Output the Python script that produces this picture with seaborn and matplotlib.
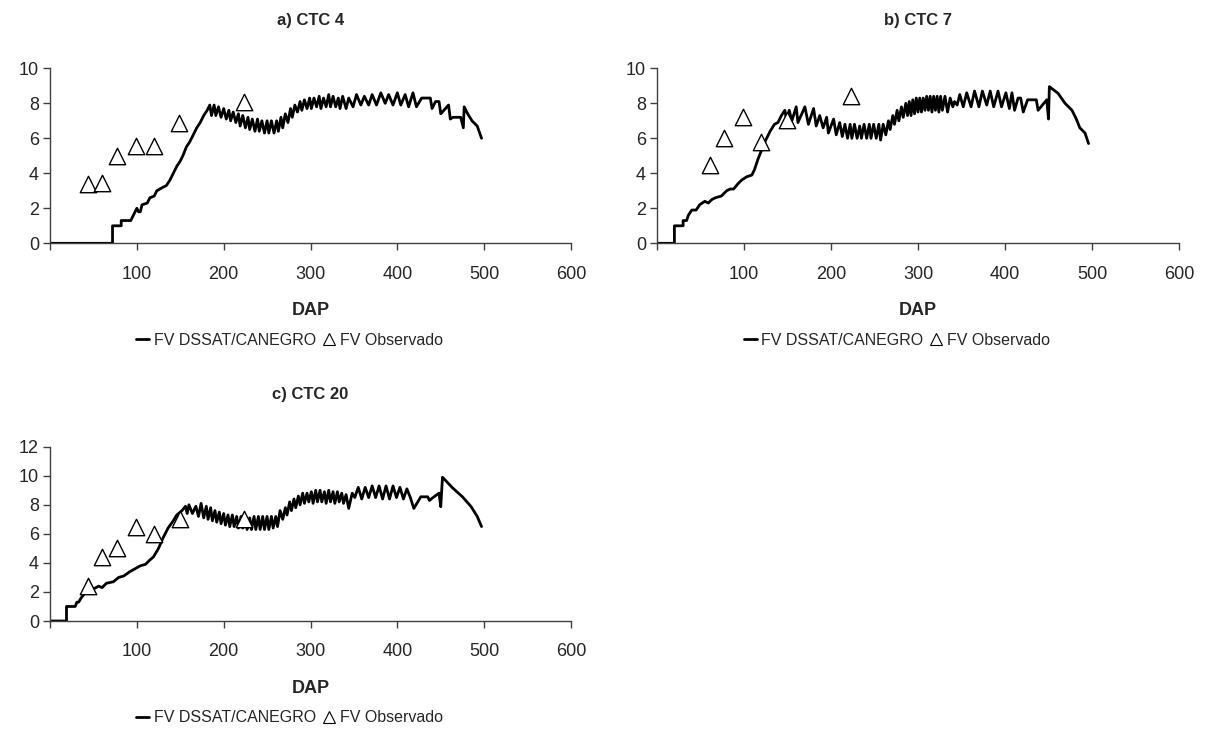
import numpy as np
import pandas as pd
import matplotlib
matplotlib.use("Agg")
import matplotlib.pyplot as plt
from matplotlib.lines import Line2D
import seaborn as sns

# -----------------------------
# Data (DAP = days after planting, FV = green leaves)
# -----------------------------

# a) CTC 4 - simulated
dap_a = [0, 72, 72, 82, 82, 93, 97, 100, 102, 104, 106, 112, 115, 120, 123, 130, 134, 138, 142, 146,
         150, 153, 157, 161, 165, 169, 173, 177, 181, 184,
         186, 189, 191, 194, 197, 200, 203, 206, 208, 211, 214, 217, 219, 222, 225, 228, 230, 233, 236, 239,
         241, 244, 247, 250, 252, 255, 258, 261, 263, 266, 268, 271, 274, 277, 279, 282, 285, 288, 290, 293,
         296, 299, 301, 304, 307, 310, 312, 315, 318, 321, 323, 326, 329, 332, 334, 337, 341, 344, 349, 353,
         358, 362, 367, 371, 376, 381, 386, 390, 395, 400, 404, 409, 413, 418, 422, 428, 438, 440, 444, 448,
         450, 459, 461, 464, 473, 476, 477, 481, 486, 492, 497]
fv_a = [0, 0, 1.0, 1.0, 1.3, 1.3, 1.7, 2.0, 1.8, 1.8, 2.2, 2.3, 2.6, 2.7, 3.0, 3.2, 3.3, 3.6, 4.0, 4.4,
        4.7, 5.0, 5.5, 5.8, 6.2, 6.6, 6.9, 7.3, 7.6, 7.9,
        7.3, 7.9, 7.3, 7.8, 7.2, 7.7, 7.1, 7.6, 7.0, 7.5, 6.9, 7.4, 6.7, 7.3, 6.6, 7.2, 6.5, 7.1, 6.4, 7.1,
        6.4, 7.0, 6.3, 7.0, 6.3, 7.0, 6.3, 7.0, 6.4, 7.2, 6.6, 7.4, 6.9, 7.7, 7.2, 7.9, 7.5, 8.1, 7.6, 8.2,
        7.7, 8.3, 7.7, 8.3, 7.8, 8.4, 7.7, 8.3, 7.8, 8.5, 7.8, 8.4, 7.8, 8.3, 7.7, 8.4, 7.7, 8.3, 7.8, 8.5,
        7.9, 8.4, 7.9, 8.5, 7.9, 8.6, 8.0, 8.5, 7.9, 8.6, 7.9, 8.5, 7.8, 8.6, 7.8, 8.3, 8.3, 7.7, 8.1, 8.1,
        7.4, 7.9, 7.1, 7.2, 7.2, 6.6, 7.8, 7.4, 7.0, 6.7, 6.0]

# b) CTC 7 - simulated
dap_b = [0, 20, 20, 30, 30, 34, 36, 40, 45, 49, 55, 59, 63, 67, 74, 80, 84, 88, 93, 97,
         103, 109, 112, 116, 120, 125, 130, 135, 139, 143, 147,
         149, 152, 155, 160, 162, 170, 174, 180, 183, 187, 191, 195, 197, 203, 206, 210, 213, 216, 219,
         222, 224, 227, 230, 233, 235, 238, 241, 244, 246, 249, 252, 255, 257, 260, 263, 266, 268, 271, 273,
         276, 278, 281, 283, 286, 288, 290, 292, 294, 296, 298, 300, 302, 304, 306, 308, 310, 312, 314, 316,
         318, 320, 322, 324, 326, 328, 331, 334, 337, 340, 342, 345, 348, 352, 356, 361, 365, 370, 374, 379,
         383, 387, 392, 396, 401, 405, 408, 411, 415, 418, 421, 426, 436, 438, 448, 450, 451, 461, 469, 477,
         482, 486, 492, 496]
fv_b = [0, 0, 1.0, 1.0, 1.3, 1.3, 1.6, 1.9, 1.9, 2.2, 2.4, 2.3, 2.5, 2.6, 2.7, 3.0, 3.1, 3.1, 3.4, 3.6,
        3.8, 3.9, 4.2, 4.8, 5.3, 5.9, 6.4, 6.8, 6.9, 7.3, 7.6,
        7.0, 7.6, 7.0, 7.8, 6.9, 7.8, 6.8, 7.7, 6.7, 7.3, 6.6, 7.2, 6.3, 7.1, 6.2, 6.9, 6.1, 6.8, 6.0,
        6.8, 6.0, 6.8, 6.0, 6.7, 6.0, 6.8, 6.0, 6.8, 6.0, 6.8, 6.0, 6.8, 5.9, 6.8, 6.2, 7.0, 6.5, 7.3, 6.8,
        7.6, 7.0, 7.8, 7.2, 8.0, 7.3, 8.1, 7.3, 8.2, 7.4, 8.3, 7.5, 8.3, 7.5, 8.3, 7.6, 8.4, 7.6, 8.4, 7.5,
        8.4, 7.6, 8.4, 7.5, 8.4, 7.6, 8.4, 7.5, 8.3, 7.8, 8.1, 7.9, 8.5, 7.8, 8.6, 7.8, 8.7, 7.8, 8.7, 7.9,
        8.7, 7.8, 8.7, 7.8, 8.6, 7.7, 8.6, 7.6, 8.3, 8.3, 7.5, 8.2, 8.2, 7.6, 8.2, 7.1, 8.95, 8.57, 8.0, 7.6,
        7.1, 6.6, 6.3, 5.7]

# c) CTC 20 - simulated
dap_c = [0, 19, 19, 29, 31, 33, 36, 40, 46, 50, 56, 60, 65, 73, 79, 85, 92, 98, 104, 110,
         115, 119, 125, 130, 136, 142, 146, 152, 156,
         158, 160, 164, 168, 171, 174, 177, 180, 182, 185, 187, 190, 192, 195, 197, 200, 202, 205, 207, 210,
         212, 215, 217, 220, 222, 225, 227, 230, 232, 235, 237, 240, 242, 245, 247, 250, 252, 255, 257, 260,
         262, 265, 268, 271, 273, 276, 278, 281, 283, 286, 288, 291, 293, 296, 298, 301, 303, 306, 308, 311,
         313, 316, 318, 321, 323, 326, 328, 331, 333, 336, 338, 341, 344, 348, 351, 355, 359, 363, 367, 371,
         375, 379, 383, 387, 391, 395, 399, 403, 407, 411, 415, 419, 427, 435, 437, 441, 448, 450, 452, 463,
         475, 485, 492, 497]
fv_c = [0, 0, 1.0, 1.0, 1.3, 1.3, 1.6, 1.9, 1.9, 2.2, 2.4, 2.3, 2.6, 2.7, 3.0, 3.1, 3.4, 3.6, 3.8, 3.9,
        4.2, 4.4, 5.0, 5.7, 6.4, 6.9, 7.3, 7.6, 7.9,
        7.4, 8.0, 7.4, 7.9, 7.2, 8.1, 7.1, 7.9, 7.0, 7.8, 6.9, 7.6, 6.8, 7.5, 6.7, 7.4, 6.6, 7.3, 6.5, 7.3,
        6.5, 7.2, 6.4, 7.2, 6.4, 7.2, 6.3, 7.1, 6.3, 7.2, 6.3, 7.2, 6.3, 7.2, 6.3, 7.2, 6.3, 7.2, 6.4, 7.2,
        6.5, 7.6, 7.0, 7.8, 7.3, 8.2, 7.6, 8.4, 7.8, 8.6, 8.0, 8.8, 8.1, 8.8, 8.2, 8.9, 8.1, 9.0, 8.2, 9.0,
        8.2, 8.9, 8.1, 9.0, 8.2, 8.9, 8.1, 8.9, 8.2, 8.8, 8.1, 8.7, 7.75, 8.8, 8.5, 9.2, 8.4, 9.2, 8.5, 9.3,
        8.5, 9.3, 8.4, 9.3, 8.4, 9.3, 8.5, 9.2, 8.4, 9.1, 8.5, 7.75, 8.55, 8.55, 8.3, 8.5, 8.8, 7.87, 9.9, 9.2,
        8.55, 7.87, 7.2, 6.5]

# observed values
obs_dap_a = [44, 60, 77, 99, 120, 149, 223]
obs_fv_a = [3.4, 3.45, 5.0, 5.55, 5.55, 6.9, 8.1]
obs_dap_b = [61, 77, 99, 119, 149, 223]
obs_fv_b = [4.5, 6.0, 7.2, 5.8, 7.05, 8.4]
obs_dap_c = [44, 60, 77, 99, 120, 150, 223]
obs_fv_c = [2.4, 4.4, 5.0, 6.5, 6.0, 7.0, 7.0]

titles = ["a) CTC 4", "b) CTC 7", "c) CTC 20"]
x_ticks = [0, 100, 200, 300, 400, 500, 600]
x_labels = ["", "100", "200", "300", "400", "500", "600"]

# -----------------------------
# Plot
# -----------------------------
sns.set_style("white")
plt.rcParams['font.family'] = ['Liberation Sans', 'DejaVu Sans']

fig = plt.figure(figsize=(12.06, 7.4), dpi=100)

W, H = 1206, 740
panels = [
    # (left, top, right, bottom) in pixels, data, ymax
    ((50, 68.3, 571, 243.3), dap_a, fv_a, obs_dap_a, obs_fv_a, 10, titles[0]),
    ((657, 68.3, 1179, 243.3), dap_b, fv_b, obs_dap_b, obs_fv_b, 10, titles[1]),
    ((50, 446.7, 571, 621), dap_c, fv_c, obs_dap_c, obs_fv_c, 12, titles[2]),
]
title_y = [20, 20, 394]

for i, (box, dx, fy, ox, oy, ymax, title) in enumerate(panels):
    l, t, r, b = box
    ax = fig.add_axes([l / W, 1 - b / H, (r - l) / W, (b - t) / H])

    sim = pd.DataFrame({"DAP": dx, "FV": fy})
    obs = pd.DataFrame({"DAP": ox, "FV": oy})

    sns.lineplot(data=sim, x="DAP", y="FV", ax=ax, color="black", lw=2.0,
                 estimator=None, sort=False)
    sns.scatterplot(data=obs, x="DAP", y="FV", ax=ax, marker="^", s=140,
                    facecolor="white", edgecolor="black", linewidth=1.0, zorder=3)

    ax.set_xlim(0, 600)
    ax.set_ylim(0, ymax)
    ax.set_xticks(x_ticks)
    ax.set_xticklabels(x_labels)
    ax.set_yticks(np.arange(0, ymax + 1, 2))
    ax.tick_params(axis="both", direction="out", length=5, width=1, color="#404040",
                   labelsize=13, bottom=True, left=True)
    ax.tick_params(axis="x", pad=11)
    ax.tick_params(axis="y", pad=3)
    for side in ["top", "right"]:
        ax.spines[side].set_visible(False)
    for side in ["left", "bottom"]:
        ax.spines[side].set_color("#404040")
        ax.spines[side].set_linewidth(1)

    ax.set_ylabel("")
    ax.set_xlabel("DAP", fontsize=13, fontweight="bold")
    ax.xaxis.set_label_coords(0.5, -59 / (b - t))

    handles = [Line2D([], [], color="black", lw=2.0),
               Line2D([], [], marker="^", ls="none", mfc="white", mec="black", ms=8, mew=0.8)]
    ax.legend(handles, ["FV DSSAT/CANEGRO", "FV Observado"], loc="center",
              bbox_to_anchor=(0.46, -97 / (b - t)), ncol=2, frameon=False, fontsize=11.5,
              handlelength=0.8, handletextpad=0.3, columnspacing=0.4)

    cx = (l + r) / 2
    fig.text(cx / W, 1 - title_y[i] / H, title, ha="center", va="center",
             fontsize=12, fontweight="bold")

fig.savefig("out.png", dpi=100)
